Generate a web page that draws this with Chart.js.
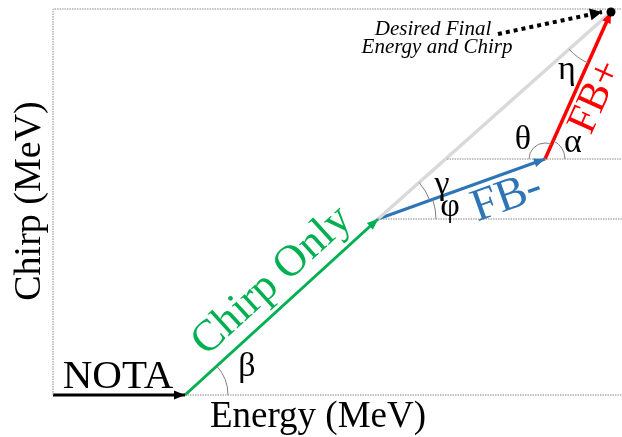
<!DOCTYPE html>
<html>
<head>
<meta charset="utf-8">
<script src="https://cdn.jsdelivr.net/npm/chart.js@4"></script>
<style>
  html, body { margin: 0; padding: 0; background: #fff; }
  #wrap { width: 622px; height: 437px; position: relative; }
</style>
</head>
<body>
<div id="wrap"><canvas id="chart"></canvas></div>
<script>
(function() {
  // path of the beam in energy / chirp space (arbitrary MeV units)
  const stepNames = ['Start', 'NOTA', 'Chirp Only', 'FB-', 'FB+'];
  const energy = [0, 13.2, 32.5, 49.2, 55.8];
  const chirp = [0, 0, 17.6, 23.6, 38.3];

  // guide lines
  const axisTop = 38.6;
  const axisRight = 56.9;
  const pointerFrom = [44.5, 36.1];
  const pointerTo = [54.9, 38.3];

  const ctx = document.getElementById('chart');

  const pt = i => ({ x: energy[i], y: chirp[i] });
  const seg = (a, b, color, width) => ({
    data: [pt(a), pt(b)], showLine: true, borderColor: color, borderWidth: width,
    pointRadius: 0, arrow: true
  });
  const dotted = (data) => ({
    data: data, showLine: true, borderColor: '#8a8a8a', borderWidth: 1,
    borderDash: [1.5, 1], pointRadius: 0
  });

  // arrowheads, angle arcs and text labels
  const sketchPlugin = {
    id: 'sketch',
    afterDatasetsDraw(chart) {
      const c = chart.ctx;
      const xs = chart.scales.x, ys = chart.scales.y;
      const X = v => xs.getPixelForValue(v), Y = v => ys.getPixelForValue(v);
      const ang = (a, b) => Math.atan2(Y(b[1]) - Y(a[1]), X(b[0]) - X(a[0]));

      chart.data.datasets.forEach(ds => {
        if (!ds.arrow) return;
        const a = ds.data[0], b = ds.data[ds.data.length - 1];
        const t = ang([a.x, a.y], [b.x, b.y]);
        const L = ds.headLen || 11, W = ds.headW || 4.5;
        const bx = X(b.x), by = Y(b.y);
        c.save();
        c.fillStyle = ds.borderColor;
        c.beginPath();
        c.moveTo(bx, by);
        c.lineTo(bx - L * Math.cos(t) + W * Math.sin(t), by - L * Math.sin(t) - W * Math.cos(t));
        c.lineTo(bx - L * Math.cos(t) - W * Math.sin(t), by - L * Math.sin(t) + W * Math.cos(t));
        c.closePath();
        c.fill();
        c.restore();
      });

      // final point marker
      c.save();
      c.fillStyle = '#000';
      c.beginPath();
      c.arc(X(energy[4]), Y(chirp[4]), 4.5, 0, Math.PI * 2);
      c.fill();
      c.restore();

      // angle arcs (clockwise on screen from 'from' to 'to')
      const P = i => [energy[i], chirp[i]];
      const arcs = [
        { at: P(1), r: 43, from: ang(P(1), P(2)), to: 0 },
        { at: P(2), r: 58, from: ang(P(2), P(3)), to: 0 },
        { at: P(2), r: 55, from: ang(P(2), P(4)), to: ang(P(2), P(3)) },
        { at: P(3), r: 16, from: Math.PI, to: ang(P(3), P(4)) },
        { at: P(3), r: 20, from: ang(P(3), P(4)), to: 0 },
        { at: P(4), r: 56, from: ang(P(4), P(3)), to: ang(P(4), P(2)) }
      ];
      c.save();
      c.strokeStyle = '#7f7f7f';
      c.lineWidth = 1;
      arcs.forEach(a => {
        c.beginPath();
        c.arc(X(a.at[0]), Y(a.at[1]), a.r, a.from, a.to, false);
        c.stroke();
      });
      c.restore();

      const serif = '"Liberation Serif", "Times New Roman", serif';
      const labels = [
        { text: 'Chirp (MeV)', at: [-2.3, 19.4], rot: -Math.PI / 2, font: '38px ' + serif, color: '#000' },
        { text: 'Energy (MeV)', at: [26.5, -3.2], font: '37px ' + serif, color: '#000', base: 'alphabetic' },
        { text: 'NOTA', at: [6.5, 0.7], font: '41px ' + serif, color: '#000', base: 'alphabetic' },
        { text: 'Chirp Only', at: [21.9, 11.4], rot: ang(P(1), P(2)), font: '44px ' + serif, color: '#00b050' },
        { text: 'FB-', at: [45.4, 19.7], rot: ang(P(2), P(3)), font: '46px ' + serif, color: '#2e75b6' },
        { text: 'FB+', at: [54.3, 29.8], rot: ang(P(3), P(4)), font: '42px ' + serif, color: '#ff0000' },
        { text: '\u03b2', at: [19.4, 2.8], font: '34px ' + serif, color: '#000' },
        { text: '\u03c6', at: [39.7, 18.8], font: '34px ' + serif, color: '#000' },
        { text: '\u03b3', at: [38.9, 21.0], font: '34px ' + serif, color: '#000' },
        { text: '\u03b8', at: [47.0, 25.5], font: '34px ' + serif, color: '#000' },
        { text: '\u03b1', at: [52.0, 25.2], font: '34px ' + serif, color: '#000' },
        { text: '\u03b7', at: [51.4, 32.5], font: '34px ' + serif, color: '#000' },
        { text: 'Desired Final', at: [38.0, 36.0], font: 'italic 21px ' + serif, color: '#000', base: 'alphabetic' },
        { text: 'Energy and Chirp', at: [38.4, 34.2], font: 'italic 21px ' + serif, color: '#000', base: 'alphabetic' }
      ];
      labels.forEach(l => {
        c.save();
        c.translate(X(l.at[0]), Y(l.at[1]));
        if (l.rot) c.rotate(l.rot);
        c.font = l.font;
        c.fillStyle = l.color;
        c.textAlign = 'center';
        c.textBaseline = l.base || 'middle';
        c.fillText(l.text, 0, 0);
        c.restore();
      });
    }
  };

  const pointerDs = {
    data: [{ x: pointerFrom[0], y: pointerFrom[1] }, { x: pointerTo[0], y: pointerTo[1] }],
    showLine: true, borderColor: '#000', borderWidth: 4, borderDash: [4, 4],
    pointRadius: 0, arrow: true, headLen: 12, headW: 6
  };

  new Chart(ctx, {
    type: 'scatter',
    data: {
      datasets: [
        dotted([{ x: 0, y: 0 }, { x: 0, y: axisTop }, { x: axisRight, y: axisTop }]),
        dotted([{ x: energy[1], y: 0 }, { x: axisRight, y: 0 }]),
        dotted([{ x: energy[2], y: chirp[2] }, { x: axisRight, y: chirp[2] }]),
        dotted([{ x: 39.4, y: chirp[3] }, { x: axisRight, y: chirp[3] }]),
        { data: [pt(2), pt(4)], showLine: true, borderColor: '#d9d9d9', borderWidth: 3.5, pointRadius: 0 },
        seg(0, 1, '#000000', 3),
        seg(1, 2, '#00b050', 3),
        seg(2, 3, '#2e75b6', 3),
        seg(3, 4, '#ff0000', 3.5),
        pointerDs
      ]
    },
    options: {
      responsive: true,
      maintainAspectRatio: false,
      animation: false,
      layout: { padding: 0 },
      plugins: { legend: { display: false }, tooltip: { enabled: false } },
      scales: {
        x: { type: 'linear', min: -5.3, max: 56.9, display: false },
        y: { type: 'linear', min: -4.2, max: 39.5, display: false }
      }
    },
    plugins: [sketchPlugin]
  });
})();
</script>
</body>
</html>
